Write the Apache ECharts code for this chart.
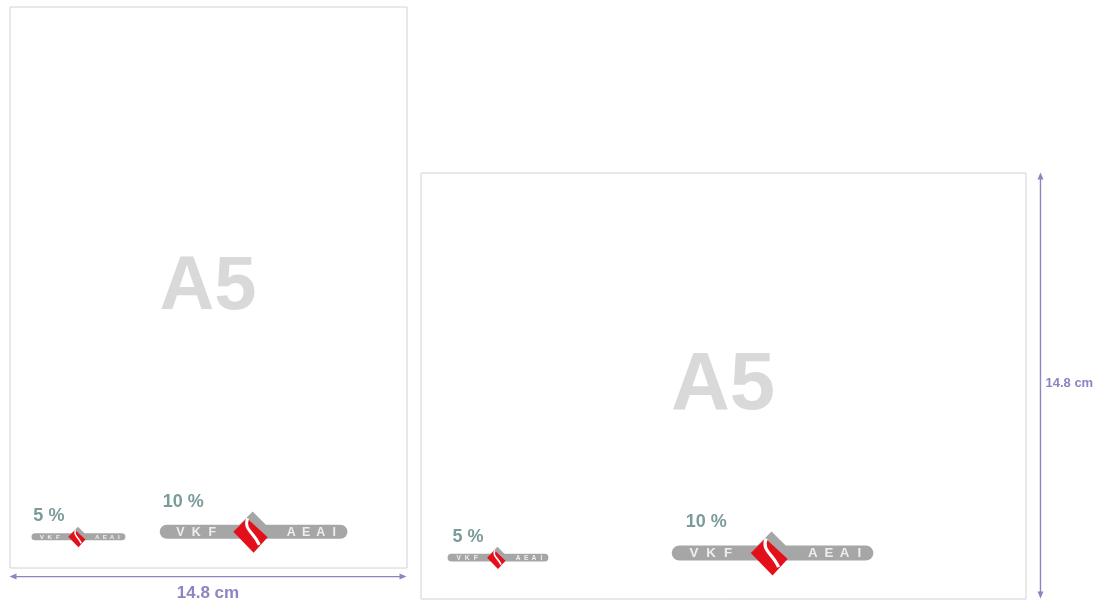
<!DOCTYPE html>
<html><head><meta charset="utf-8">
<script src="https://cdn.jsdelivr.net/npm/echarts@6/dist/echarts.min.js"></script>
<style>html,body{margin:0;padding:0;background:#fff}#c{width:1097px;height:601px}</style>
</head><body><div id="c"></div>
<script>
// Page formats (cm)
const pageNames = ['A5', 'A5'];
const pageWidthCm = [14.8, 21.0];
const pageHeightCm = [21.0, 14.8];
// Logos: size in percent, label, page index, left edge and bar middle (cm on the page)
const logoPercents = [5, 10, 5, 10];
const logoLabels = ['5 %', '10 %', '5 %', '10 %'];
const logoPage = [0, 0, 1, 1];
const logoLeftCm = [0.82, 5.6, 0.94, 8.72];
const logoMidCm = [19.85, 19.66, 13.38, 13.22];
const logoLabelShiftCm = [0.07, 0.11, 0.17, 0.49];
const logoWordLeft = ['V', 'K', 'F'];
const logoWordRight = ['A', 'E', 'A', 'I'];
// Dimension annotations
const dimensionLabels = ['14.8 cm', '14.8 cm'];
const dimensionValuesCm = [14.8, 14.8];

const FONT = '"Liberation Sans", Arial, sans-serif';
const GRAY = '#a6a6a6', RED = '#e3101b', TEAL = '#7c9b9b', PURPLE = '#8c85c1';

const chart = echarts.init(document.getElementById('c'), null, {renderer: 'canvas'});

function pageRender(params, api) {
  const w = api.value(0), h = api.value(1);
  const p0 = api.coord([0, 0]), p1 = api.coord([w, h]);
  const ppc = api.size([1, 1])[0];
  return {type: 'group', children: [
    {type: 'rect', shape: {x: p0[0] + 0.5, y: p0[1] + 0.5, width: p1[0] - p0[0], height: p1[1] - p0[1]},
     style: {fill: '#fff', stroke: '#d2d2d2', lineWidth: 1}},
    {type: 'text', x: (p0[0] + p1[0]) / 2, y: (p0[1] + p1[1]) / 2 + 1,
     style: {text: pageNames[params.dataIndex], font: 'bold ' + (2.83 * ppc) + 'px ' + FONT,
       fill: '#d9d9d9', align: 'center', verticalAlign: 'middle'}}
  ]};
}

function logoRender(params, api) {
  const idx = api.value(4);
  const p = api.coord([api.value(0), api.value(1)]);
  const ppc = api.size([1, 1])[0];
  const W = api.value(2) * 0.7 * ppc;
  const x0 = p[0], y0 = p[1];
  const X = f => x0 + f * W, Y = f => y0 + f * W;
  const bh = 0.075 * W;
  const ch = [];
  ch.push({type: 'rect', shape: {x: x0, y: y0 - bh / 2, width: W, height: bh, r: bh / 2}, style: {fill: GRAY}});
  const fs = 0.066 * W;
  const lpos = [0.11, 0.195, 0.28], rpos = [0.7, 0.78, 0.857, 0.93];
  logoWordLeft.forEach((t, i) => ch.push({type: 'text', x: X(lpos[i]), y: y0 + 0.5,
    style: {text: t, font: 'bold ' + fs + 'px ' + FONT, fill: '#eeeeee', align: 'center', verticalAlign: 'middle'}}));
  logoWordRight.forEach((t, i) => ch.push({type: 'text', x: X(rpos[i]), y: y0 + 0.5,
    style: {text: t, font: 'bold ' + fs + 'px ' + FONT, fill: '#eeeeee', align: 'center', verticalAlign: 'middle'}}));
  // gray diamond
  const gc = [0.495, -0.012], gs = 0.095;
  ch.push({type: 'polygon', shape: {points: [[X(gc[0]), Y(gc[1] - gs)], [X(gc[0] + gs), Y(gc[1])], [X(gc[0]), Y(gc[1] + gs)], [X(gc[0] - gs), Y(gc[1])]]},
    style: {fill: GRAY}});
  // red diamond
  ch.push({type: 'polygon', shape: {points: [[X(0.392), Y(0.0)], [X(0.465), Y(-0.072)], [X(0.575), Y(0.03)], [X(0.5), Y(0.112)]]},
    style: {fill: RED}});
  // white hook
  ch.push({type: 'bezierCurve', shape: {x1: X(0.468), y1: Y(-0.072), cpx1: X(0.445), cpy1: Y(-0.01), cpx2: X(0.5), cpy2: Y(0.0), x2: X(0.53), y2: Y(0.07)},
    style: {stroke: '#ffffff', lineWidth: Math.max(1, 0.016 * W), fill: null}});
  // label
  ch.push({type: 'text', x: x0 + logoLabelShiftCm[idx] * ppc, y: y0 - (0.1 * W + 11),
    style: {text: logoLabels[idx], font: 'bold 18px ' + FONT, fill: TEAL, align: 'left', verticalAlign: 'middle'}});
  return {type: 'group', children: ch};
}

function arrowRender(params, api) {
  const vertical = api.value(3) === 1;
  const a = api.coord([api.value(0), api.value(1)]);
  const b = vertical ? api.coord([api.value(0), api.value(1) + api.value(2)]) : api.coord([api.value(0) + api.value(2), api.value(1)]);
  const ch = [];
  const hl = 7, hw = 3;
  if (!vertical) {
    ch.push({type: 'line', shape: {x1: a[0] + 3, y1: a[1], x2: b[0] - 3, y2: b[1]}, style: {stroke: PURPLE, lineWidth: 1.4}});
    ch.push({type: 'polygon', shape: {points: [[a[0], a[1]], [a[0] + hl, a[1] - hw], [a[0] + hl, a[1] + hw]]}, style: {fill: PURPLE}});
    ch.push({type: 'polygon', shape: {points: [[b[0], b[1]], [b[0] - hl, b[1] - hw], [b[0] - hl, b[1] + hw]]}, style: {fill: PURPLE}});
    ch.push({type: 'text', x: (a[0] + b[0]) / 2, y: a[1] + 17,
      style: {text: dimensionLabels[params.dataIndex], font: 'bold 17px ' + FONT, fill: PURPLE, align: 'center', verticalAlign: 'middle'}});
  } else {
    ch.push({type: 'line', shape: {x1: a[0], y1: a[1] + 3, x2: b[0], y2: b[1] - 3}, style: {stroke: PURPLE, lineWidth: 1.4}});
    ch.push({type: 'polygon', shape: {points: [[a[0], a[1]], [a[0] - hw, a[1] + hl], [a[0] + hw, a[1] + hl]]}, style: {fill: PURPLE}});
    ch.push({type: 'polygon', shape: {points: [[b[0], b[1]], [b[0] - hw, b[1] - hl], [b[0] + hw, b[1] - hl]]}, style: {fill: PURPLE}});
    ch.push({type: 'text', x: a[0] + 5, y: (a[1] + b[1]) / 2 - 2,
      style: {text: dimensionLabels[params.dataIndex], font: 'bold 13px ' + FONT, fill: PURPLE, align: 'left', verticalAlign: 'middle'}});
  }
  return {type: 'group', children: ch};
}

const series = [];
[0, 1].forEach(pg => {
  series.push({type: 'custom', xAxisIndex: pg, yAxisIndex: pg, clip: false, silent: true, renderItem: pageRender,
    data: [[pageWidthCm[pg], pageHeightCm[pg]]], z: 1});
  const logos = [];
  logoPercents.forEach((pc, i) => { if (logoPage[i] === pg) logos.push([logoLeftCm[i], logoMidCm[i], pc, 0, i]); });
  series.push({type: 'custom', xAxisIndex: pg, yAxisIndex: pg, clip: false, silent: true, renderItem: logoRender, data: logos, z: 2});
});
// horizontal dimension under portrait page, vertical dimension right of landscape page
series.push({type: 'custom', xAxisIndex: 0, yAxisIndex: 0, clip: false, silent: true, renderItem: arrowRender,
  data: [[0, 21.34, dimensionValuesCm[0], 0]], z: 3});
series.push({type: 'custom', xAxisIndex: 1, yAxisIndex: 1, clip: false, silent: true, renderItem: arrowRender,
  data: [[21.52, 0, dimensionValuesCm[1], 1]], z: 3});

chart.setOption({
  animation: false,
  backgroundColor: '#ffffff',
  grid: [{left: 9.5, top: 6.5, width: 397, height: 561}, {left: 420.5, top: 172.5, width: 605, height: 426}],
  xAxis: [{gridIndex: 0, type: 'value', min: 0, max: pageWidthCm[0], show: false},
          {gridIndex: 1, type: 'value', min: 0, max: pageWidthCm[1], show: false}],
  yAxis: [{gridIndex: 0, type: 'value', min: 0, max: pageHeightCm[0], inverse: true, show: false},
          {gridIndex: 1, type: 'value', min: 0, max: pageHeightCm[1], inverse: true, show: false}],
  series: series
});
</script></body></html>
